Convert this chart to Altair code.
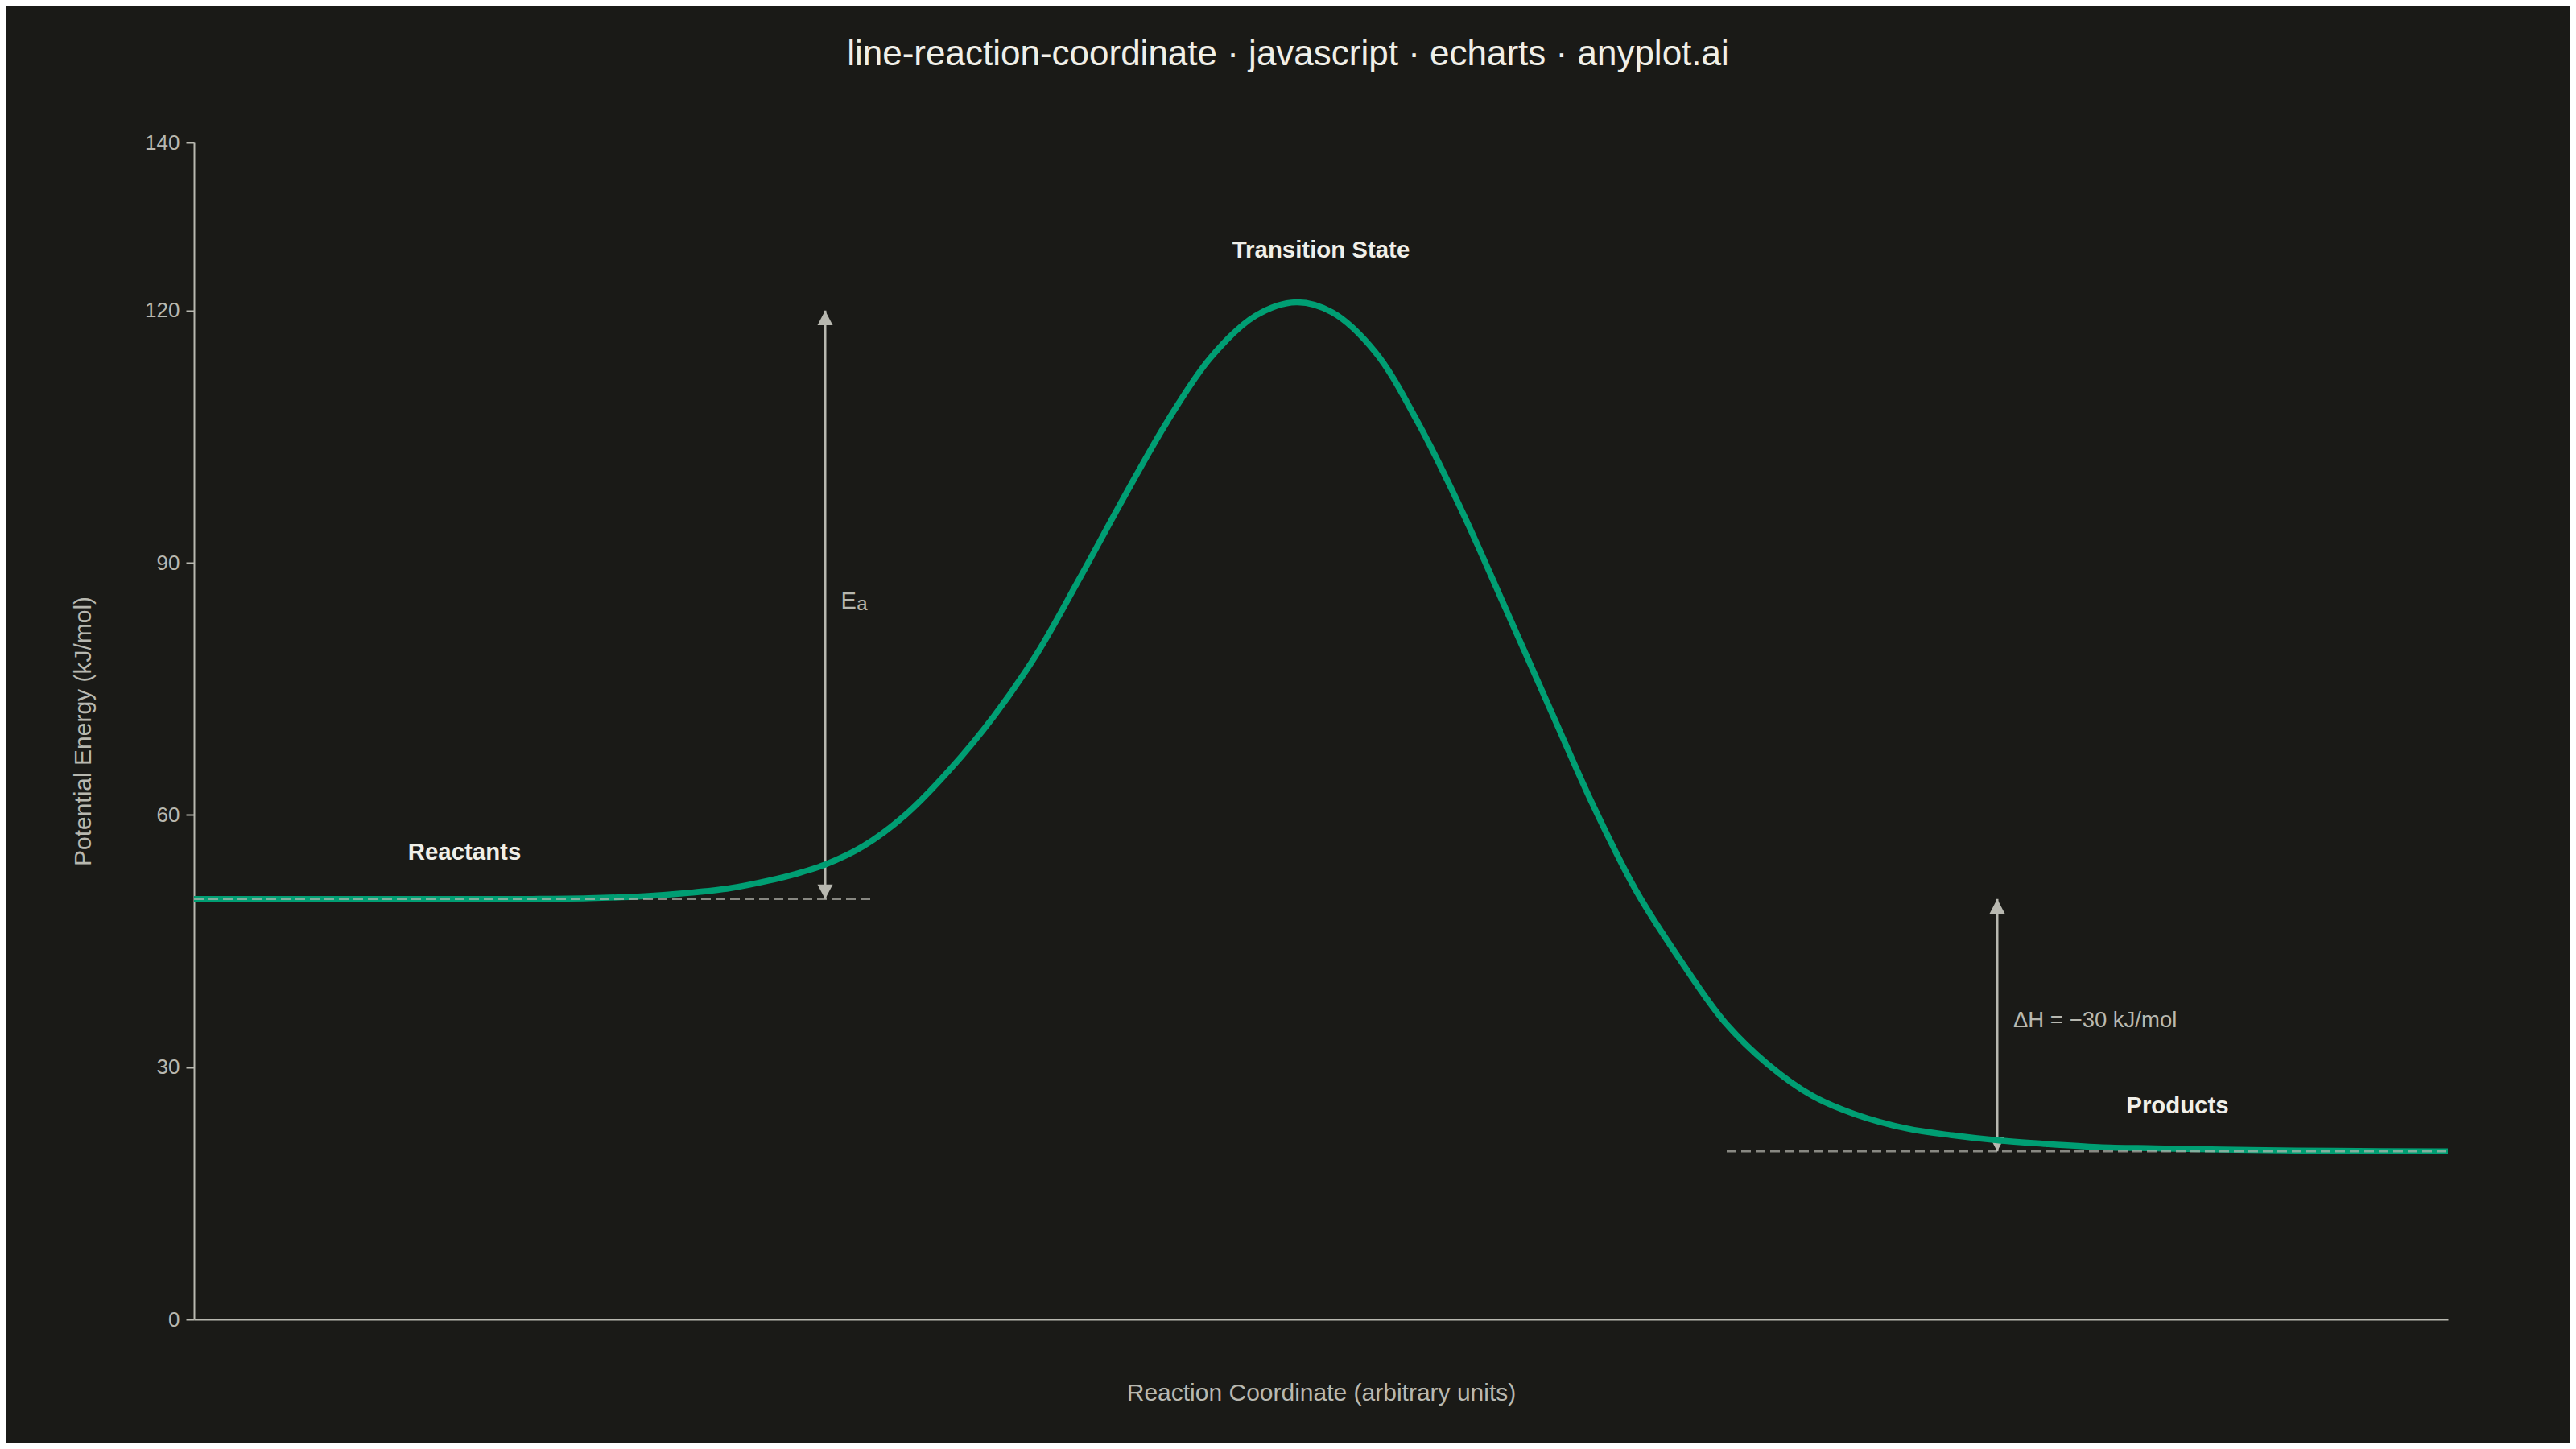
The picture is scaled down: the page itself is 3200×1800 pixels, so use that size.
import altair as alt
import pandas as pd

# ---- data ----
coord = [0.0, 0.5, 1.0, 1.5, 1.75, 2.0, 2.2, 2.38, 2.55, 2.67, 2.8, 2.97, 3.16, 3.35,
         3.55, 3.74, 3.93, 4.13, 4.32, 4.51, 4.71, 4.89, 5.05, 5.24, 5.43, 5.63, 5.82,
         6.02, 6.21, 6.4, 6.6, 6.79, 6.98, 7.18, 7.37, 7.6, 7.8, 8.0, 8.2, 8.45, 8.7,
         9.0, 9.5, 10.0]
energy = [50.0, 50.0, 50.0, 50.02, 50.1, 50.35, 50.75, 51.3, 52.2, 53.0, 54.1, 56.3,
          60.1, 65.3, 71.8, 79.2, 88.2, 98.0, 106.9, 114.4, 119.4, 121.0, 119.8, 115.1,
          106.7, 95.9, 84.5, 72.4, 61.0, 50.9, 42.5, 35.4, 30.4, 26.6, 24.4, 22.7, 21.9,
          21.3, 20.9, 20.5, 20.35, 20.2, 20.05, 20.0]

level_x0 = [0.0, 6.8]
level_x1 = [3.0, 10.0]
level_y = [50, 20]

arrow_x = [2.8, 8.0]
arrow_lo = [50, 20]
arrow_hi = [120, 50]

label_text = ["Reactants", "Transition State", "Products"]
label_x = [1.2, 5.0, 8.8]
label_y = [54.7, 126.3, 24.55]

ea_x = [2.8]
ea_y = [84.6]
dh_x = [8.0]
dh_y = [34.8]
dh_text = ["ΔH = −30 kJ/mol"]

y_ticks = [0, 30, 60, 90, 120, 140]

# ---- styling ----
BG = "#1A1A17"
GREEN = "#009E73"
GREY = "#B8B8B0"
WHITE = "#F0EFE8"
FONT = "Liberation Sans"

x_axis = alt.Axis(
    title="Reaction Coordinate (arbitrary units)", ticks=False, labels=False, grid=False,
    domainColor=GREY, domainWidth=2, titleFont=FONT, titleFontSize=30,
    titleFontWeight="normal", titleColor=GREY, titleX=1400, titleY=100,
    titleAlign="center", titleBaseline="alphabetic",
)
y_axis = alt.Axis(
    title="Potential Energy (kJ/mol)", values=y_ticks, grid=False, domainColor=GREY,
    domainWidth=2, tickColor=GREY, tickWidth=2, tickSize=10, labelPadding=8,
    labelFont=FONT, labelFontSize=26, labelColor=GREY, titleFont=FONT,
    titleFontSize=30, titleFontWeight="normal", titleColor=GREY, titleX=-129,
    titleY=731, titleAngle=270, titleAlign="center", titleBaseline="alphabetic",
)
xs = alt.Scale(domain=[0, 10], nice=False, zero=False)
ys = alt.Scale(domain=[0, 140], nice=False)


def X(field="x"):
    return alt.X(f"{field}:Q", scale=xs, axis=x_axis, title="Reaction Coordinate (arbitrary units)")


def Y(field="y"):
    return alt.Y(f"{field}:Q", scale=ys, axis=y_axis, title="Potential Energy (kJ/mol)")


curve_df = pd.DataFrame({"x": coord, "y": energy})
level_df = pd.DataFrame({"x": level_x0, "x2": level_x1, "y": level_y})
arrow_df = pd.DataFrame({"x": arrow_x, "y": arrow_lo, "y2": arrow_hi})
head_up_df = pd.DataFrame({"x": arrow_x, "y": arrow_hi})
head_dn_df = pd.DataFrame({"x": arrow_x, "y": arrow_lo})
label_df = pd.DataFrame({"x": label_x, "y": label_y, "t": label_text})
ea_df = pd.DataFrame({"x": ea_x, "y": ea_y})
dh_df = pd.DataFrame({"x": dh_x, "y": dh_y, "t": dh_text})

arrows = alt.Chart(arrow_df).mark_rule(color=GREY, strokeWidth=3).encode(
    x=X(), y=Y(), y2="y2:Q")
heads_up = alt.Chart(head_up_df).mark_point(
    shape="M0,0L1,1.9L-1,1.9Z", size=361, filled=True, color=GREY, opacity=1, strokeWidth=0
).encode(x=X(), y=Y())
heads_dn = alt.Chart(head_dn_df).mark_point(
    shape="M0,0L1,-1.9L-1,-1.9Z", size=361, filled=True, color=GREY, opacity=1, strokeWidth=0
).encode(x=X(), y=Y())

curve = alt.Chart(curve_df).mark_line(
    color=GREEN, strokeWidth=7.5, interpolate="catmull-rom", strokeCap="butt"
).encode(x=X(), y=Y())

levels = alt.Chart(level_df).mark_rule(
    color=GREY, strokeWidth=2.5, strokeDash=[12, 6], opacity=0.7
).encode(x=X(), x2="x2:Q", y=Y())

labels = alt.Chart(label_df).mark_text(
    font=FONT, fontSize=29.4, fontWeight="bold", color=WHITE, align="center",
    baseline="alphabetic"
).encode(x=X(), y=Y(), text="t:N")

ea_E = alt.Chart(ea_df).mark_text(
    text="E", font=FONT, fontSize=29, color=GREY, align="left", baseline="alphabetic", dx=19.4
).encode(x=X(), y=Y())
ea_a = alt.Chart(ea_df).mark_text(
    text="a", font=FONT, fontSize=24, color=GREY, align="left", baseline="alphabetic",
    dx=39.3, dy=2.3
).encode(x=X(), y=Y())

dh = alt.Chart(dh_df).mark_text(
    font=FONT, fontSize=27.5, color=GREY, align="left", baseline="alphabetic", dx=20
).encode(x=X(), y=Y(), text="t:N")

chart = alt.layer(
    arrows, heads_up, heads_dn, curve, levels, labels, ea_E, ea_a, dh
).properties(
    width=2800,
    height=1462,
    title=alt.TitleParams(
        text="line-reaction-coordinate · javascript · echarts · anyplot.ai",
        font=FONT, fontSize=44, fontWeight="normal", color=WHITE, anchor="middle",
        frame="group", offset=39, baseline="alphabetic", dx=-41,
    ),
    padding={"left": 233, "top": 169, "right": 151, "bottom": 153},
    autosize=alt.AutoSizeParams(type="none"),
    background=BG,
).configure_view(stroke=None)

chart.save("out.html", embed_options={"renderer": "svg", "actions": False})
